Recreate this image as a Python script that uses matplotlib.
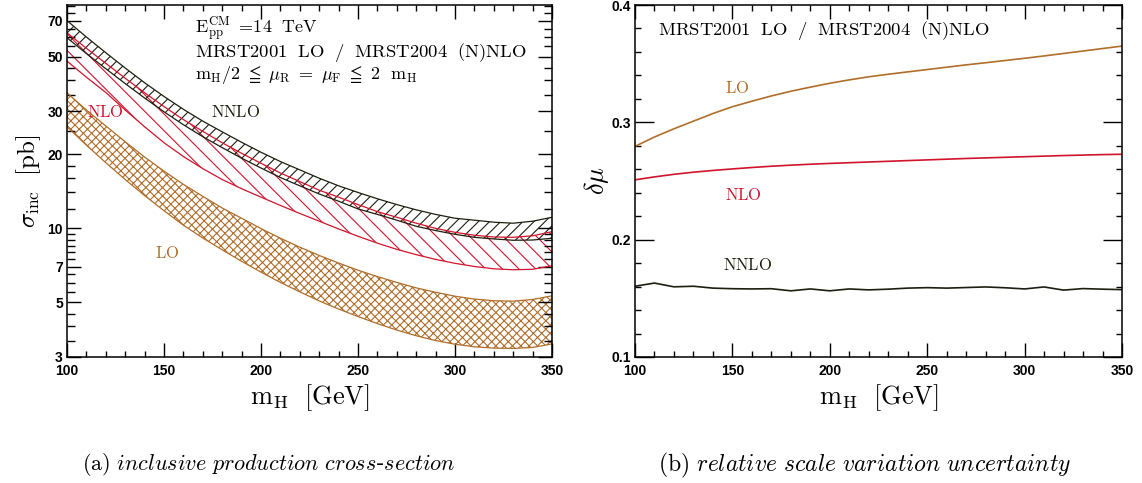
import matplotlib
matplotlib.use("Agg")
import matplotlib.pyplot as plt
from matplotlib.ticker import FixedLocator, FixedFormatter, NullFormatter, MultipleLocator

plt.rcParams["mathtext.fontset"] = "cm"
plt.rcParams["hatch.linewidth"] = 0.8

# Higgs mass grid [GeV]
m_h = [100, 110, 120, 130, 140, 150, 160, 170, 180, 190, 200, 210, 220,
       230, 240, 250, 260, 270, 280, 290, 300, 310, 320, 330, 340, 350]

# inclusive cross-section bands [pb] (scale variation envelopes)
lo_up = [35.6, 30.3, 26.1, 22.5, 19.5, 17.1, 15.1, 13.5, 12.1, 11.0, 9.98, 9.12, 8.39,
         7.76, 7.23, 6.76, 6.37, 6.03, 5.73, 5.50, 5.30, 5.16, 5.08, 5.06, 5.14, 5.32]
lo_dn = [25.9, 21.8, 18.5, 15.8, 13.6, 11.8, 10.3, 9.14, 8.18, 7.35, 6.64, 6.03, 5.52,
         5.07, 4.70, 4.38, 4.10, 3.86, 3.66, 3.50, 3.38, 3.30, 3.26, 3.25, 3.28, 3.39]
nlo_up = [62.4, 54.0, 46.9, 40.8, 35.6, 31.3, 27.7, 24.8, 22.3, 20.2, 18.4, 16.8, 15.5,
          14.3, 13.4, 12.5, 11.7, 11.1, 10.5, 10.0, 9.64, 9.38, 9.23, 9.20, 9.33, 9.70]
nlo_dn = [47.9, 41.2, 35.7, 30.3, 25.9, 22.3, 19.6, 17.5, 15.8, 14.5, 13.4, 12.4, 11.5,
          10.7, 9.95, 9.29, 8.71, 8.22, 7.82, 7.48, 7.21, 7.00, 6.85, 6.79, 6.82, 7.05]
nnlo_up = [70.0, 60.0, 51.8, 44.9, 39.1, 34.4, 30.5, 27.3, 24.7, 22.4, 20.4, 18.7, 17.3,
           16.0, 14.9, 14.0, 13.2, 12.5, 11.9, 11.4, 11.0, 10.8, 10.6, 10.5, 10.7, 11.1]
nnlo_dn = [59.6, 51.4, 44.6, 38.8, 33.9, 29.8, 26.4, 23.6, 21.3, 19.3, 17.6, 16.1, 14.9,
           13.8, 12.9, 12.0, 11.4, 10.8, 10.2, 9.8, 9.46, 9.2, 9.06, 8.95, 8.97, 9.12]

# relative scale uncertainty delta mu
dmu_lo = [0.2795, 0.2875, 0.2945, 0.3010, 0.3075, 0.3133, 0.3180, 0.3225, 0.3265, 0.3300,
          0.3333, 0.3362, 0.3388, 0.3410, 0.3430, 0.3450, 0.3470, 0.3490, 0.3508, 0.3527,
          0.3546, 0.3566, 0.3587, 0.3608, 0.3629, 0.3650]
dmu_nlo = [0.2510, 0.2535, 0.2557, 0.2575, 0.2590, 0.2603, 0.2615, 0.2626, 0.2635, 0.2643,
           0.2650, 0.2656, 0.2662, 0.2668, 0.2674, 0.2680, 0.2686, 0.2692, 0.2697, 0.2702,
           0.2707, 0.2712, 0.2717, 0.2721, 0.2725, 0.2728]
dmu_nnlo = [0.1603, 0.1630, 0.1598, 0.1603, 0.1587, 0.1582, 0.1580, 0.1582, 0.1564, 0.1580,
            0.1564, 0.1580, 0.1572, 0.1578, 0.1587, 0.1591, 0.1587, 0.1592, 0.1597, 0.1590,
            0.1580, 0.1597, 0.1570, 0.1583, 0.1578, 0.1574]

sigma_ticks = [3, 5, 7, 10, 20, 30, 50, 70]
sigma_minor = [3.5, 4, 4.5, 5.5, 6, 6.5, 7.5, 8, 8.5, 9, 9.5, 12, 14, 16, 18,
               25, 35, 40, 45, 55, 60, 65, 75, 80]
dmu_ticks = [0.1, 0.2, 0.3, 0.4]

BROWN = "#b06e2a"
RED = "#d0142c"
DARK = "#1e1e10"

tick_font = {"family": "Liberation Sans", "weight": "bold", "size": 10}


def style_axes(ax):
    ax.set_xlim(100, 350)
    ax.xaxis.set_major_locator(MultipleLocator(50))
    ax.xaxis.set_minor_locator(MultipleLocator(10))
    ax.tick_params(which="both", direction="in", top=True, right=True, width=1.0)
    ax.tick_params(which="major", length=10)
    ax.tick_params(which="minor", length=4)
    ax.tick_params(axis="x", which="major", pad=5)
    ax.tick_params(axis="y", which="major", pad=3)
    for lab in ax.get_xticklabels() + ax.get_yticklabels():
        lab.set_fontfamily(tick_font["family"])
        lab.set_fontweight(tick_font["weight"])
        lab.set_fontsize(tick_font["size"])
    for sp in ax.spines.values():
        sp.set_linewidth(1.1)


fig = plt.figure(figsize=(11.42, 4.83), dpi=100)
ax1 = fig.add_axes([0.0587, 0.2609, 0.4247, 0.7287])
ax2 = fig.add_axes([0.556, 0.2609, 0.4265, 0.7287])

# --- (a) cross-section bands ---
ax1.set_yscale("log")
ax1.fill_between(m_h, lo_dn, lo_up, facecolor="none", edgecolor=BROWN, hatch="xxxx", linewidth=0)
ax1.fill_between(m_h, nlo_dn, nlo_up, facecolor="none", edgecolor=RED, hatch="\\\\", linewidth=0)
ax1.fill_between(m_h, nnlo_dn, nnlo_up, facecolor="none", edgecolor=DARK, hatch="///", linewidth=0)
for lo, hi, c in [(lo_dn, lo_up, BROWN), (nlo_dn, nlo_up, RED), (nnlo_dn, nnlo_up, DARK)]:
    ax1.plot(m_h, lo, color=c, lw=0.9)
    ax1.plot(m_h, hi, color=c, lw=0.9)

ax1.set_ylim(3, 81)
ax1.yaxis.set_major_locator(FixedLocator(sigma_ticks))
ax1.yaxis.set_major_formatter(FixedFormatter([str(t) for t in sigma_ticks]))
ax1.yaxis.set_minor_locator(FixedLocator(sigma_minor))
ax1.yaxis.set_minor_formatter(NullFormatter())
style_axes(ax1)
ax1.tick_params(axis="y", which="minor", length=6)
ax1.set_xlabel(r"$\mathrm{m_H\ \ [GeV]}$", fontsize=19, labelpad=3)
ax1.set_ylabel(r"$\sigma_{\mathrm{inc}}\ \ \mathrm{[pb]}$", fontsize=18, labelpad=3)

ax1.text(0.264, 0.932, r"$\mathrm{E_{pp}^{CM}\ =\!14\ \ TeV}$", transform=ax1.transAxes,
         fontsize=13, va="center", ha="left")
ax1.text(0.264, 0.866, r"$\mathrm{MRST2001\ \ LO\ \ /\ \ MRST2004\ \ (N)NLO}$",
         transform=ax1.transAxes, fontsize=13.4, va="center", ha="left")
ax1.text(0.264, 0.800, r"$\mathrm{m_H/2\ \leqq\ \mu_R\ =\ \mu_F\ \leqq\ 2\ \ m_H}$",
         transform=ax1.transAxes, fontsize=13, va="center", ha="left")
ax1.text(119.6, 29.7, r"$\mathrm{NLO}$", color=RED, fontsize=12, ha="center", va="center")
ax1.text(187, 29.7, r"$\mathrm{NNLO}$", color=DARK, fontsize=12, ha="center", va="center")
ax1.text(151.5, 7.94, r"$\mathrm{LO}$", color=BROWN, fontsize=12, ha="center", va="center")

# --- (b) relative uncertainty ---
ax2.plot(m_h, dmu_lo, color=BROWN, lw=1.2)
ax2.plot(m_h, dmu_nlo, color=RED, lw=1.2)
ax2.plot(m_h, dmu_nnlo, color=DARK, lw=1.2)
ax2.set_ylim(0.1, 0.4)
ax2.yaxis.set_major_locator(FixedLocator(dmu_ticks))
ax2.yaxis.set_major_formatter(FixedFormatter([f"{t:.1f}" for t in dmu_ticks]))
ax2.yaxis.set_minor_locator(MultipleLocator(0.02))
style_axes(ax2)
ax2.tick_params(axis="y", which="major", length=14)
ax2.set_xlabel(r"$\mathrm{m_H\ \ [GeV]}$", fontsize=19, labelpad=3)
ax2.set_ylabel(r"$\delta\mu$", fontsize=19, labelpad=0)

ax2.text(111.8, 0.3785, r"$\mathrm{MRST2001\ \ LO\ \ /\ \ MRST2004\ \ (N)NLO}$",
         fontsize=13.4, va="center", ha="left")
ax2.text(152.4, 0.329, r"$\mathrm{LO}$", color=BROWN, fontsize=12, ha="center", va="center")
ax2.text(155.5, 0.238, r"$\mathrm{NLO}$", color=RED, fontsize=12, ha="center", va="center")
ax2.text(158, 0.178, r"$\mathrm{NNLO}$", color=DARK, fontsize=12, ha="center", va="center")

# sub-figure captions
fig.text(269 / 1142, 1 - 465 / 483,
         r"$\mathrm{(a)}\ \mathit{inclusive\ production\ cross}$-$\mathit{section}$",
         fontsize=16, ha="center", va="center")
fig.text(865 / 1142, 1 - 465 / 483,
         r"$\mathrm{(b)}\ \mathit{relative\ scale\ variation\ uncertainty}$",
         fontsize=17, ha="center", va="center")

fig.savefig("out.png", dpi=100)
